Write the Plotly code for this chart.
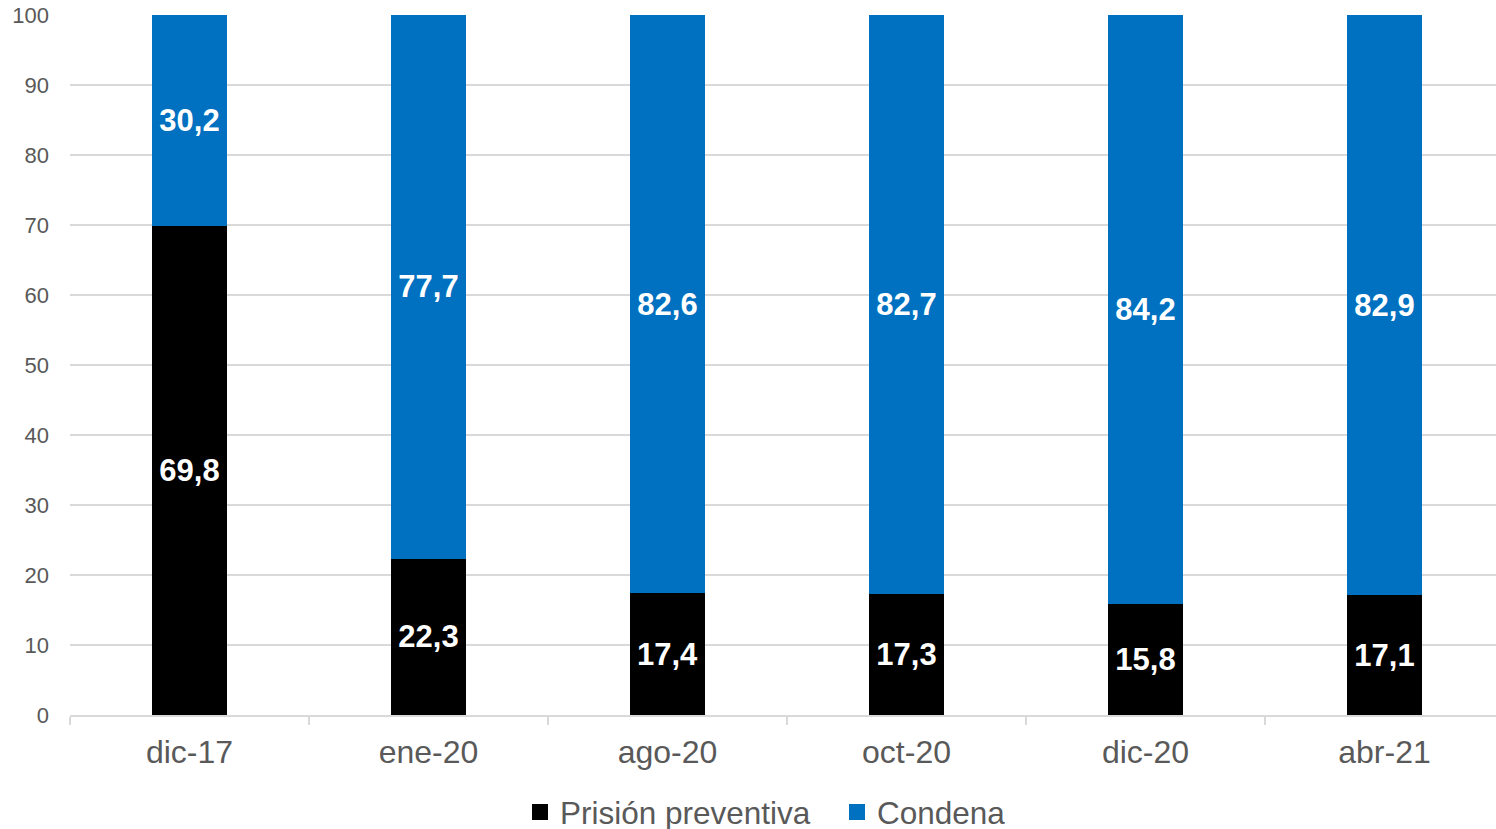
import plotly.graph_objects as go

categories = ["dic-17", "ene-20", "ago-20", "oct-20", "dic-20", "abr-21"]
prision_preventiva = [69.8, 22.3, 17.4, 17.3, 15.8, 17.1]
condena = [30.2, 77.7, 82.6, 82.7, 84.2, 82.9]
y_ticks = list(range(0, 101, 10))

FONT = "Liberation Sans, Arial, sans-serif"
GRAY = "#595959"
GRID = "#d9d9d9"
BLACK = "#000000"
BLUE = "#0070C0"

FIG_W, FIG_H = 1496, 829
L, T, W, H = 70, 15, 1426, 700
CAT_PX = 239  # category width in pixels (plot area runs past the right edge)
x_range = [-0.5, -0.5 + W / CAT_PX]


def px_to_paper_x(px):
    return (px - L) / W


def px_to_paper_y(py):
    return (T + H - py) / H


fig = go.Figure()
series = [("Prisión preventiva", prision_preventiva, BLACK, "legend"),
          ("Condena", condena, BLUE, "legend2")]
for name, vals, color, leg in series:
    fig.add_trace(go.Bar(
        x=categories, y=vals, name=name, marker=dict(color=color, line=dict(width=0)),
        texttemplate="<b>%{y:.1f}</b>", textposition="inside", insidetextanchor="middle",
        textangle=0, constraintext="none",
        insidetextfont=dict(family=FONT, size=31, color="white"),
        showlegend=False, hoverinfo="skip",
    ))
    # legend proxies with larger square markers
    fig.add_trace(go.Scatter(
        x=[None], y=[None], mode="markers", name=name, legend=leg,
        marker=dict(symbol="square", size=17, color=color),
        showlegend=True, hoverinfo="skip",
    ))

legend_common = dict(orientation="h", yanchor="middle", xanchor="left",
                     font=dict(size=31.5, color=GRAY), itemwidth=30,
                     bgcolor="rgba(0,0,0,0)")

fig.update_layout(
    barmode="stack",
    bargap=0.686,
    separators=",.",
    width=FIG_W, height=FIG_H,
    margin=dict(l=L, r=FIG_W - L - W, t=T, b=FIG_H - T - H, autoexpand=False),
    paper_bgcolor="white", plot_bgcolor="white",
    font=dict(family=FONT, color=GRAY),
    legend=dict(x=px_to_paper_x(532 - 12), y=px_to_paper_y(812), **legend_common),
    legend2=dict(x=px_to_paper_x(849 - 12), y=px_to_paper_y(812), **legend_common),
    xaxis=dict(
        type="category", range=x_range, showgrid=False, showline=True, linecolor=GRID,
        linewidth=2, ticks="outside", tickson="boundaries", ticklen=8, tickcolor=GRID,
        tickwidth=2, tickfont=dict(size=32, color=GRAY), ticklabelstandoff=8,
        automargin=False,
    ),
    yaxis=dict(
        range=[0, 100], tickvals=y_ticks, showgrid=True, gridcolor=GRID, gridwidth=2,
        zeroline=False, showline=False, tickfont=dict(size=22, color=GRAY),
        ticklabelstandoff=20, automargin=False, ticklabeloverflow="allow",
    ),
)

fig.write_html(
    "out.html",
    config={"displayModeBar": False},
    post_script="document.body.style.margin='0';document.body.style.overflow='hidden';",
)
